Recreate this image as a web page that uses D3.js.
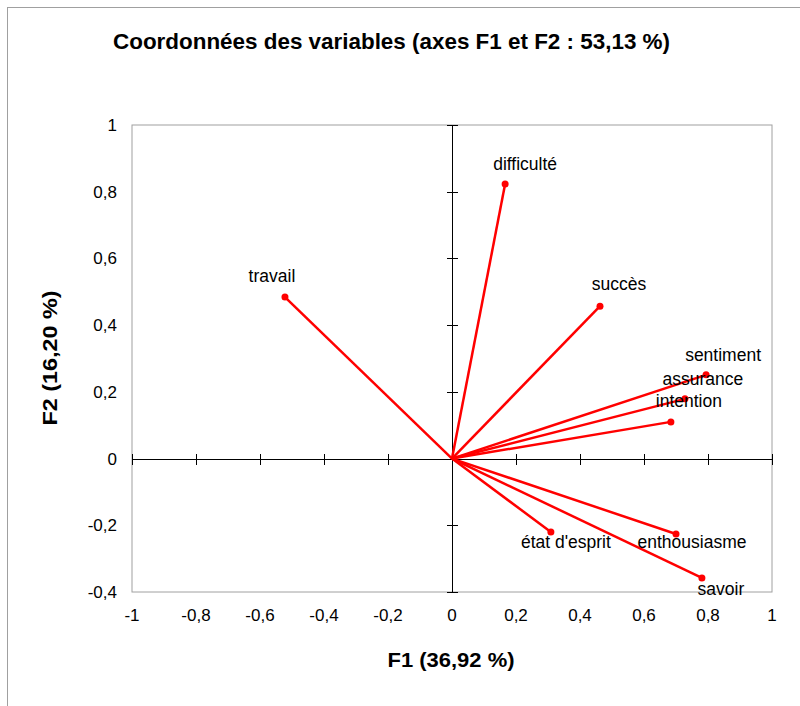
<!DOCTYPE html>
<html><head><meta charset="utf-8">
<script src="https://cdn.jsdelivr.net/npm/d3@7"></script>
<style>body{margin:0;background:#fff}svg{display:block}</style>
</head><body>
<script>
const variables = ["difficulté","travail","succès","sentiment","assurance","intention","état d'esprit","enthousiasme","savoir"];
const f1Values = [0.166,-0.522,0.4625,0.794,0.728,0.684,0.309,0.700,0.781];
const f2Values = [0.823,0.484,0.457,0.251,0.179,0.110,-0.220,-0.226,-0.358];
const xTicks = [-1,-0.8,-0.6,-0.4,-0.2,0,0.2,0.4,0.6,0.8,1];
const yTicks = [-0.4,-0.2,0,0.2,0.4,0.6,0.8,1];
const titleText = "Coordonnées des variables (axes F1 et F2 : 53,13 %)";
const xTitle = "F1 (36,92 %)";
const yTitle = "F2 (16,20 %)";
// label offsets (pixels) relative to each point
const labelDx = [20,-13,19,17,18,18,15,16,19];
const labelDy = [-14,-15,-16,-14,-14,-15,16,14,17];

const W=800,H=706;
const svg=d3.select("body").append("svg").attr("width",W).attr("height",H);
svg.append("rect").attr("x",7.5).attr("y",7.5).attr("width",900).attr("height",900)
  .attr("fill","none").attr("stroke","#a0a0a0");

const x=d3.scaleLinear().domain([-1,1]).range([132,772]);
const y=d3.scaleLinear().domain([-0.4,1]).range([592,125]);
const fmt=d=>String(+d.toFixed(1)).replace(".",",");
const font="'Liberation Sans', Arial, sans-serif";

svg.append("rect").attr("x",x(-1)).attr("y",y(1)).attr("width",x(1)-x(-1)).attr("height",y(-0.4)-y(1))
  .attr("fill","none").attr("stroke","#a0a0a0");

// tick labels
svg.append("g").selectAll("text").data(xTicks).join("text")
  .attr("x",d=>x(d)).attr("y",621).attr("text-anchor","middle")
  .attr("font-family",font).attr("font-size",17).attr("fill","#000").text(fmt);
svg.append("g").selectAll("text").data(yTicks).join("text")
  .attr("x",117).attr("y",d=>y(d)+6).attr("text-anchor","end")
  .attr("font-family",font).attr("font-size",17).attr("fill","#000").text(fmt);

// axes through origin
const ax=svg.append("g").attr("stroke","#000").attr("stroke-width",1);
ax.append("line").attr("x1",x(-1)).attr("x2",x(1)).attr("y1",Math.round(y(0))+0.5).attr("y2",Math.round(y(0))+0.5);
ax.append("line").attr("y1",y(1)).attr("y2",y(-0.4)).attr("x1",Math.round(x(0))+0.5).attr("x2",Math.round(x(0))+0.5);
ax.selectAll(".xt").data(xTicks).join("line").attr("class","xt")
  .attr("x1",d=>Math.round(x(d))+0.5).attr("x2",d=>Math.round(x(d))+0.5)
  .attr("y1",Math.round(y(0))-5).attr("y2",Math.round(y(0))+6);
ax.selectAll(".yt").data(yTicks).join("line").attr("class","yt")
  .attr("y1",d=>Math.round(y(d))+0.5).attr("y2",d=>Math.round(y(d))+0.5)
  .attr("x1",Math.round(x(0))-5).attr("x2",Math.round(x(0))+6);

// vectors
const pts=variables.map((v,i)=>({v,f1:f1Values[i],f2:f2Values[i],dx:labelDx[i],dy:labelDy[i]}));
svg.append("g").selectAll("line").data(pts).join("line")
  .attr("x1",x(0)).attr("y1",y(0)).attr("x2",d=>x(d.f1)).attr("y2",d=>y(d.f2))
  .attr("stroke","#ff0000").attr("stroke-width",2.5);
svg.append("g").selectAll("circle").data(pts).join("circle")
  .attr("cx",d=>x(d.f1)).attr("cy",d=>y(d.f2)).attr("r",3.5).attr("fill","#ff0000");
svg.append("g").selectAll("text").data(pts).join("text")
  .attr("x",d=>x(d.f1)+d.dx).attr("y",d=>y(d.f2)+d.dy).attr("text-anchor","middle")
  .attr("font-family",font).attr("font-size",17.5).attr("fill","#000").text(d=>d.v);

// titles
svg.append("text").attr("x",391.5).attr("y",49).attr("text-anchor","middle")
  .attr("font-family",font).attr("font-weight","bold").attr("font-size",22)
  .attr("textLength",557).attr("lengthAdjust","spacingAndGlyphs").text(titleText);
svg.append("text").attr("x",451).attr("y",667).attr("text-anchor","middle")
  .attr("font-family",font).attr("font-weight","bold").attr("font-size",21)
  .attr("textLength",127).attr("lengthAdjust","spacingAndGlyphs").text(xTitle);
svg.append("text").attr("transform","translate(57,358) rotate(-90)").attr("text-anchor","middle")
  .attr("font-family",font).attr("font-weight","bold").attr("font-size",21)
  .attr("textLength",135).attr("lengthAdjust","spacingAndGlyphs").text(yTitle);
</script>
</body></html>
